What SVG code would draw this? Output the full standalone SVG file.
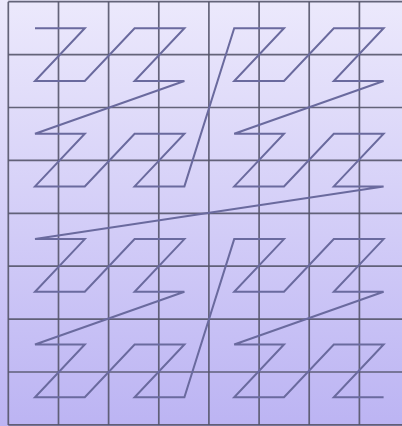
<svg xmlns="http://www.w3.org/2000/svg" width="402" height="426" viewBox="0 0 402 426">
<defs>
<linearGradient id="bg" x1="0" y1="0" x2="0" y2="1">
<stop offset="0" stop-color="#ece9fc"/>
<stop offset="1" stop-color="#bcb4f3"/>
</linearGradient>
<style>
.grid line{stroke:#55556a;stroke-width:1.7;stroke-opacity:0.9}
.curve{fill:none;stroke:#6a6a9e;stroke-width:2;stroke-linejoin:miter}
</style>
</defs>
<rect x="0" y="0" width="402" height="426" fill="url(#bg)"/>
<g id="grid" class="grid">
<line x1="8.3" y1="1.7" x2="8.3" y2="425"/>
<line x1="58.5" y1="1.7" x2="58.5" y2="425"/>
<line x1="108.6" y1="1.7" x2="108.6" y2="425"/>
<line x1="158.8" y1="1.7" x2="158.8" y2="425"/>
<line x1="208.9" y1="1.7" x2="208.9" y2="425"/>
<line x1="259.1" y1="1.7" x2="259.1" y2="425"/>
<line x1="309.2" y1="1.7" x2="309.2" y2="425"/>
<line x1="359.4" y1="1.7" x2="359.4" y2="425"/>
<line x1="8.3" y1="1.7" x2="402" y2="1.7"/>
<line x1="8.3" y1="54.6" x2="402" y2="54.6"/>
<line x1="8.3" y1="107.5" x2="402" y2="107.5"/>
<line x1="8.3" y1="160.4" x2="402" y2="160.4"/>
<line x1="8.3" y1="213.3" x2="402" y2="213.3"/>
<line x1="8.3" y1="266.2" x2="402" y2="266.2"/>
<line x1="8.3" y1="319.1" x2="402" y2="319.1"/>
<line x1="8.3" y1="372" x2="402" y2="372"/>
<line x1="8.3" y1="424.9" x2="402" y2="424.9"/>
</g>
<g id="connectors">
<polyline class="curve" points="35,28.3 84.8,28.3 35,81 84.8,81 134.6,28.3 184.4,28.3 134.6,81 184.4,81 35,133.7 84.8,133.7 35,186.4 84.8,186.4 134.6,133.7 184.4,133.7 134.6,186.4 184.4,186.4 234.2,28.3 284,28.3 234.2,81 284,81 333.8,28.3 383.6,28.3 333.8,81 383.6,81 234.2,133.7 284,133.7 234.2,186.4 284,186.4 333.8,133.7 383.6,133.7 333.8,186.4 383.6,186.4 35,239.1 84.8,239.1 35,291.8 84.8,291.8 134.6,239.1 184.4,239.1 134.6,291.8 184.4,291.8 35,344.5 84.8,344.5 35,397.2 84.8,397.2 134.6,344.5 184.4,344.5 134.6,397.2 184.4,397.2 234.2,239.1 284,239.1 234.2,291.8 284,291.8 333.8,239.1 383.6,239.1 333.8,291.8 383.6,291.8 234.2,344.5 284,344.5 234.2,397.2 284,397.2 333.8,344.5 383.6,344.5 333.8,397.2 383.6,397.2"/>
</g>
</svg>
